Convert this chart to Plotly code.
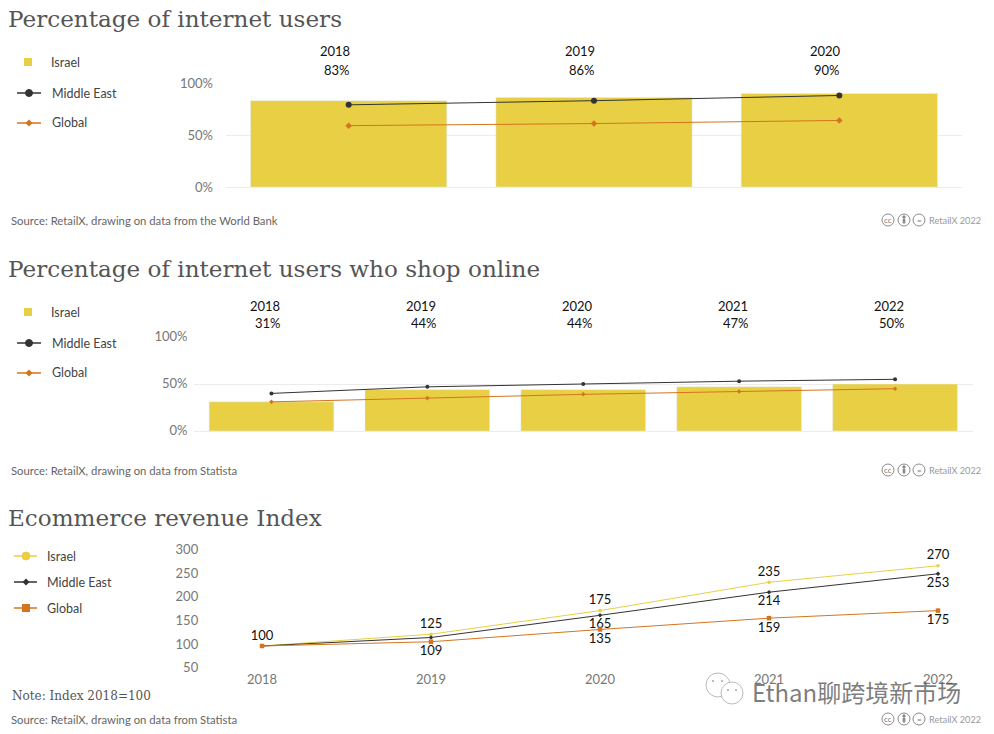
"""Israel ecommerce overview charts, three panels on one page."""

import plotly.graph_objects as go

W, H = 994, 734

years_a = ["2018", "2019", "2020"]
israel_a = [83, 86, 90]
middle_east_a = [79, 83, 88]
global_a = [59, 61, 64]

years_b = ["2018", "2019", "2020", "2021", "2022"]
israel_b = [31, 44, 44, 47, 50]
middle_east_b = [40, 47, 50, 53, 55]
global_b = [31, 35, 39, 42, 45]

years_c = [2018, 2019, 2020, 2021, 2022]
israel_c = [100, 125, 175, 235, 270]
middle_east_c = [100, 118, 165, 214, 253]
global_c = [100, 109, 135, 159, 175]
israel_c_labels = ["100", "125", "175", "235", "270"]
middle_east_c_labels = ["", "", "165", "214", "253"]
global_c_labels = ["", "109", "135", "159", "175"]

pct_ticks = [0, 50, 100]
pct_tick_labels = ["0%", "50%", "100%"]
index_ticks = [50, 100, 150, 200, 250, 300]

YELLOW = "#e8cf44"
DARK = "#333333"
ORANGE = "#d5741f"
GRID = "#ececec"
SANS = "Lato"
SERIF = "DejaVu Serif"
CJK = "Noto Sans CJK SC"


def px(x):
    return x / W


def py(y):
    return 1 - y / H


annotations = []
shapes = []


def label(x, y, text, size=12.5, color="#444444", family=SANS, anchor="left"):
    # annotations carry about 2px of padding on the left
    if anchor == "left":
        x -= 2
    annotations.append(dict(
        x=px(x), y=py(y), xref="paper", yref="paper", text=text, showarrow=False,
        xanchor=anchor, yanchor="middle", font=dict(family=family, size=size, color=color),
    ))


def circle(x, y, r, fill, line=None, width=1):
    shapes.append(dict(
        type="circle", xref="paper", yref="paper", x0=px(x - r), x1=px(x + r),
        y0=py(y + r), y1=py(y - r), fillcolor=fill,
        line=dict(color=line or fill, width=width),
    ))


def square(x, y, r, fill):
    shapes.append(dict(
        type="rect", xref="paper", yref="paper", x0=px(x - r), x1=px(x + r),
        y0=py(y + r), y1=py(y - r), fillcolor=fill, line=dict(width=0),
    ))


def diamond(x, y, r, fill):
    path = f"M{px(x - r)},{py(y)} L{px(x)},{py(y - r)} L{px(x + r)},{py(y)} L{px(x)},{py(y + r)} Z"
    shapes.append(dict(type="path", xref="paper", yref="paper", path=path, fillcolor=fill, line=dict(width=0)))


def hline(x0, x1, y, color, width=1.5):
    shapes.append(dict(
        type="line", xref="paper", yref="paper", x0=px(x0), x1=px(x1), y0=py(y), y1=py(y),
        line=dict(color=color, width=width),
    ))


def credit(y):
    for x, mark in [(888, "cc"), (904, ""), (919, "=")]:
        circle(x, y, 6, "white", "#8a8a8a", 1)
        if mark:
            label(x, y - 0.5, mark, 8, "#777777", SANS, "center")
    circle(904, y - 3, 1.2, "#8a8a8a")
    shapes.append(dict(
        type="rect", xref="paper", yref="paper", x0=px(902.7), x1=px(905.3),
        y0=py(y + 3.5), y1=py(y - 1.2), fillcolor="#8a8a8a", line=dict(width=0),
    ))
    label(929, y, "RetailX 2022", 9.2, "#999999")


fig = go.Figure()

# panel one
fig.add_trace(go.Bar(x=years_a, y=israel_a, marker_color=YELLOW, xaxis="x", yaxis="y"))
fig.add_trace(go.Scatter(
    x=years_a, y=middle_east_a, mode="lines+markers", xaxis="x", yaxis="y",
    line=dict(color=DARK, width=1), marker=dict(size=6, color=DARK, symbol="circle"),
))
fig.add_trace(go.Scatter(
    x=years_a, y=global_a, mode="lines+markers", xaxis="x", yaxis="y",
    line=dict(color=ORANGE, width=1), marker=dict(size=5, color=ORANGE, symbol="diamond"),
))

# panel two
fig.add_trace(go.Bar(x=years_b, y=israel_b, marker_color=YELLOW, xaxis="x2", yaxis="y2"))
fig.add_trace(go.Scatter(
    x=years_b, y=middle_east_b, mode="lines+markers", xaxis="x2", yaxis="y2",
    line=dict(color=DARK, width=1), marker=dict(size=4, color=DARK, symbol="circle"),
))
fig.add_trace(go.Scatter(
    x=years_b, y=global_b, mode="lines+markers", xaxis="x2", yaxis="y2",
    line=dict(color=ORANGE, width=1), marker=dict(size=3.5, color=ORANGE, symbol="diamond"),
))

# panel three
value_font = dict(family=SANS, size=13, color="#111111")
fig.add_trace(go.Scatter(
    x=years_c, y=israel_c, mode="lines+markers+text", xaxis="x3", yaxis="y3", cliponaxis=False,
    line=dict(color=YELLOW, width=1), marker=dict(size=3.5, color=YELLOW, symbol="circle"),
    text=israel_c_labels, textposition="top center", textfont=value_font,
))
fig.add_trace(go.Scatter(
    x=years_c, y=middle_east_c, mode="lines+markers+text", xaxis="x3", yaxis="y3", cliponaxis=False,
    line=dict(color=DARK, width=1), marker=dict(size=3.5, color=DARK, symbol="diamond"),
    text=middle_east_c_labels, textposition="bottom center", textfont=value_font,
))
fig.add_trace(go.Scatter(
    x=years_c, y=global_c, mode="lines+markers+text", xaxis="x3", yaxis="y3", cliponaxis=False,
    line=dict(color=ORANGE, width=1), marker=dict(size=4.5, color=ORANGE, symbol="square"),
    text=global_c_labels, textposition="bottom center", textfont=value_font,
))

# year and percent labels above the bars, placed by category index
for years, values, xref, shift_y, shift_p, y_year, y_pct in [
    (years_a, israel_a, "x", -14, -12, 51, 70),
    (years_b, israel_b, "x2", -6, -3, 306, 323),
]:
    for i, (year, value) in enumerate(zip(years, values)):
        for text, shift, y in [(year, shift_y, y_year), (f"{value}%", shift_p, y_pct)]:
            annotations.append(dict(
                x=i, xref=xref, y=py(y), yref="paper", xshift=shift, text=text, showarrow=False,
                xanchor="center", yanchor="middle", font=dict(family=SANS, size=13, color="#111111"),
            ))

# titles and footers
label(8, 19, "Percentage of internet users", 23.1, "#555555", SERIF)
label(8, 269, "Percentage of internet users who shop online", 23.1, "#555555", SERIF)
label(8, 518, "Ecommerce revenue Index", 23.1, "#555555", SERIF)
label(11, 220, "Source: RetailX, drawing on data from the World Bank", 11.3, "#666666")
label(11, 470, "Source: RetailX, drawing on data from Statista", 11.3, "#666666")
label(11, 719, "Source: RetailX, drawing on data from Statista", 11.3, "#666666")
label(12, 696, "Note: Index 2018=100", 12, "#555555", SERIF)
for y in [220, 470, 719]:
    credit(y)

# legends
for top in [0, 250]:
    square(28, 62 + top, 4, YELLOW)
    label(51, 62 + top, "Israel")
    hline(17, 41, 93 + top, DARK)
    circle(29, 93 + top, 3.5, DARK)
    label(52, 93 + top, "Middle East")
    hline(17, 41, 123 + top, ORANGE)
    diamond(29, 123 + top, 3.5, ORANGE)
    label(52, 122 + top, "Global")

hline(14, 37, 556, YELLOW)
circle(26, 556, 4, YELLOW)
label(47, 556, "Israel")
hline(14, 37, 582, DARK)
diamond(26, 582, 3.5, DARK)
label(47, 582, "Middle East")
hline(14, 37, 608, ORANGE)
square(26, 608, 4, ORANGE)
label(47, 608, "Global")

# watermark
circle(718, 685, 12, "white", "#a8a8a8", 0.8)
circle(732, 693, 11, "white", "#a8a8a8", 0.8)
for x, y in [(713, 681), (722, 681), (728, 690), (736, 690)]:
    circle(x, y, 0.6, "#a8a8a8")
label(752, 691, "Ethan聊跨境新市场", 24, "rgba(90,90,90,0.8)", CJK)

# y ranges run just past 0 and 100, plotly drops gridlines that sit on the plot edge
fig.update_layout(
    width=W,
    height=H,
    margin=dict(l=0, r=0, t=0, b=0, autoexpand=False),
    paper_bgcolor="white",
    plot_bgcolor="white",
    showlegend=False,
    bargap=0.2,
    annotations=annotations,
    shapes=shapes,
    font=dict(family=SANS, size=13, color="#777777"),
    xaxis=dict(domain=[px(226), px(962)], anchor="y", type="category", range=[-0.5, 2.5],
               showticklabels=False, showgrid=False, zeroline=False, ticks=""),
    yaxis=dict(domain=[py(188), py(82)], anchor="x", range=[-0.96, 100.96], tickvals=pct_ticks,
               ticktext=pct_tick_labels, gridcolor=GRID, zeroline=False, ticklabelstandoff=12),
    xaxis2=dict(domain=[px(193.5), px(973)], anchor="y2", type="category", range=[-0.5, 4.5],
                showticklabels=False, showgrid=False, zeroline=False, ticks=""),
    yaxis2=dict(domain=[py(432), py(336)], anchor="x2", range=[-1.06, 101.06], tickvals=pct_ticks,
                ticktext=pct_tick_labels, gridcolor=GRID, zeroline=False, ticklabelstandoff=5,
                ticklabelshift=-1),
    xaxis3=dict(domain=[px(228.2), px(971.8)], anchor="y3", range=[2017.8, 2022.2],
                tickvals=years_c, showgrid=False, zeroline=False, ticks=""),
    yaxis3=dict(domain=[py(669.6), py(551.6)], anchor="x3", range=[50, 300],
                tickvals=index_ticks, showgrid=False, zeroline=False,
                ticks="", ticklabelstandoff=29, ticklabelshift=-2),
)

fig.write_html("out.html", config={"displayModeBar": False},
               post_script="document.body.style.margin='0';")
